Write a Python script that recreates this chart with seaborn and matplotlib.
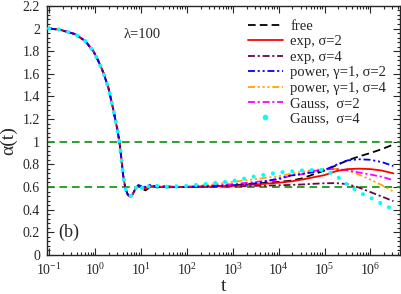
import numpy as np
import pandas as pd
import matplotlib
matplotlib.use("Agg")
import matplotlib.pyplot as plt
from matplotlib.lines import Line2D
from matplotlib.ticker import LogLocator, MultipleLocator, FuncFormatter
import seaborn as sns

# common short-time part (all curves coincide)
t_early = [0.1, 0.17, 0.37, 0.61, 0.92, 1.19, 1.52, 1.96, 2.51, 3.07, 3.4, 3.7,
           4.1, 4.6, 5.2, 5.8, 6.6, 7.6, 8.8]
alpha_early = [2.0, 1.99, 1.95, 1.89, 1.80, 1.71, 1.61, 1.475, 1.28, 1.106, 1.0, 0.87,
               0.70, 0.585, 0.53, 0.516, 0.535, 0.585, 0.615]

# long-time part, one list per curve
t_late = [10, 12.6, 15.8, 22.4, 31.6, 56, 1e2, 3.16e2, 1e3, 3.16e3, 1e4, 1.78e4,
          3.16e4, 5.62e4, 1e5, 1.78e5, 3.16e5, 5.62e5, 1e6, 1.78e6, 3.16e6]
alpha_free = [0.59, 0.57, 0.60, 0.605, 0.595, 0.60, 0.60, 0.605, 0.615, 0.63, 0.645, 0.655,
              0.675, 0.71, 0.745, 0.79, 0.835, 0.87, 0.90, 0.935, 0.975]
alpha_exp2 = [0.60, 0.585, 0.61, 0.60, 0.60, 0.60, 0.60, 0.603, 0.61, 0.622, 0.638, 0.648,
              0.665, 0.685, 0.705, 0.74, 0.758, 0.762, 0.758, 0.745, 0.72]
alpha_exp4 = [0.60, 0.59, 0.615, 0.595, 0.605, 0.60, 0.60, 0.602, 0.605, 0.61, 0.615, 0.618,
              0.622, 0.628, 0.633, 0.634, 0.625, 0.595, 0.555, 0.515, 0.475]
alpha_pow2 = [0.61, 0.60, 0.62, 0.60, 0.60, 0.598, 0.60, 0.605, 0.615, 0.632, 0.675, 0.70,
              0.715, 0.73, 0.75, 0.795, 0.835, 0.845, 0.84, 0.82, 0.785]
alpha_pow4 = [0.60, 0.595, 0.61, 0.605, 0.598, 0.60, 0.605, 0.62, 0.645, 0.67, 0.695, 0.715,
              0.735, 0.75, 0.758, 0.76, 0.745, 0.71, 0.665, 0.615, 0.56]
alpha_gau2 = [0.60, 0.60, 0.605, 0.60, 0.61, 0.60, 0.60, 0.61, 0.625, 0.645, 0.665, 0.70,
              0.712, 0.74, 0.755, 0.758, 0.748, 0.728, 0.71, 0.69, 0.66]
alpha_gau4 = [0.58, 0.63, 0.59, 0.61, 0.60, 0.605, 0.61, 0.63, 0.652, 0.695, 0.728, 0.737,
              0.746, 0.75, 0.75, 0.70, 0.62, 0.553, 0.505, 0.451, 0.40]

labels = ["free", "exp, σ=2", "exp, σ=4", "power, γ=1, σ=2", "power, γ=1, σ=4",
          "Gauss,  σ=2", "Gauss,  σ=4"]
decades = [1e-1, 1e0, 1e1, 1e2, 1e3, 1e4, 1e5, 1e6]

sns.set_style("ticks")
plt.rcParams["font.family"] = ["Liberation Serif", "DejaVu Serif"]
plt.rcParams["mathtext.fontset"] = "stix"
plt.rcParams["lines.scale_dashes"] = False

fig, ax = plt.subplots(figsize=(4.02, 2.94), dpi=100)
fig.subplots_adjust(left=0.117, right=0.995, top=0.98, bottom=0.133)

green = "#1a9a1a"
for yv in [1.0, 0.6]:
    ax.axhline(yv, color=green, lw=1.3, linestyle=(0, (5.5, 3.5)), zorder=1)

# (values, colour, linestyle, zorder) -- red and blue on top like the original
styles = [
    (alpha_free, "black", (0, (5.5, 3)), 2.0),
    (alpha_exp2, "#ff0000", "-", 3.5),
    (alpha_exp4, "#670748", (0, (5, 2, 1.5, 2)), 2.2),
    (alpha_pow2, "#0000ff", (0, (5, 2, 1.5, 2, 1.5, 2)), 3.6),
    (alpha_pow4, "#ffa500", (0, (5, 2, 1.5, 2, 1.5, 2, 1.5, 2)), 2.4),
    (alpha_gau2, "#ff00ff", (0, (5, 2, 1.5, 2)), 2.6),
]
handles = []
for vals, col, ls, z in styles:
    df = pd.DataFrame({"t": t_early + t_late, "alpha": alpha_early + vals})
    sns.lineplot(data=df, x="t", y="alpha", ax=ax, color=col, lw=1.3,
                 linestyle=ls, zorder=z)
    handles.append(Line2D([], [], color=col, lw=1.3, linestyle=ls))

# Gauss sigma=4 drawn as round dots
df = pd.DataFrame({"t": t_early + t_late, "alpha": alpha_early + alpha_gau4})
sns.lineplot(data=df, x="t", y="alpha", ax=ax, color="#00ffff", lw=3.0,
             linestyle=(0, (0.01, 7.0)), dash_capstyle="round", zorder=4)
handles.append(Line2D([], [], color="#00ffff", marker="o", ms=3.0, lw=0))

ax.set_xscale("log")
ax.set_xlim(0.09, 4.4e6)
ax.set_ylim(0, 2.2)
ax.set_xticks(decades)
ax.xaxis.set_minor_locator(LogLocator(base=10, subs=np.arange(2, 10), numticks=100))
ax.yaxis.set_major_locator(MultipleLocator(0.2))
ax.yaxis.set_minor_locator(MultipleLocator(0.04))
ax.yaxis.set_major_formatter(FuncFormatter(lambda v, p: "%g" % round(v, 2)))
ax.tick_params(which="both", direction="in", top=True, right=True, labelsize=10,
               width=0.8, pad=5)
ax.tick_params(which="major", length=5)
ax.tick_params(which="minor", length=2.5)
for s in ax.spines.values():
    s.set_linewidth(1.0)

ax.set_xlabel("t", fontsize=14, labelpad=0)
ax.set_ylabel("α(t)", fontsize=14)
ax.yaxis.set_label_coords(-0.083, 0.46)

ax.text(4.1, 1.947, "λ=100", fontsize=10.5, va="center", ha="left")
ax.text(0.16, 0.2, "(b)", fontsize=13, va="center", ha="left")

ax.legend(handles, labels, loc="upper left", bbox_to_anchor=(0.54, 0.985),
          frameon=False, fontsize=10.5, handlelength=2.4, handletextpad=0.5,
          labelspacing=0.15, borderpad=0.2)

fig.savefig("out.png", dpi=100)
